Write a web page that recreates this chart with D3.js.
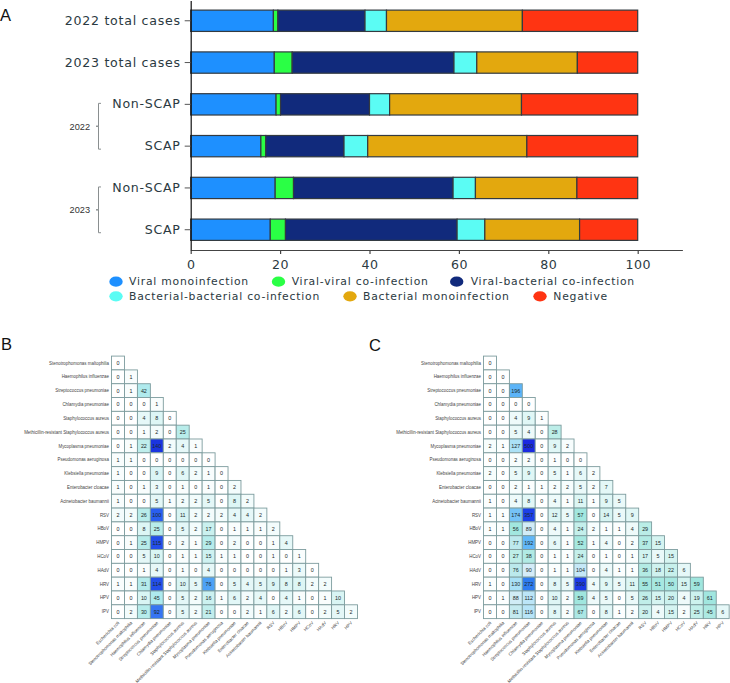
<!DOCTYPE html>
<html><head><meta charset="utf-8">
<style>html,body{margin:0;background:#fff}svg{display:block}</style>
<script src="https://d3js.org/d3.v7.min.js"></script></head>
<body><svg id="c" width="730" height="683"></svg>
<script>
// Stacked bars: composition of infection types (%)
const barGroups = ["2022 total cases","2023 total cases","Non-SCAP","SCAP","Non-SCAP ","SCAP "];
const infectionTypes = ["Viral monoinfection","Viral-viral co-infection","Viral-bacterial co-infection","Bacterial-bacterial co-infection","Bacterial monoinfection","Negative"];
const typeColors = ["#1e90ff","#2aff45","#112a7c","#5bfcf4","#e3a80e","#ff3412"];
const total2022 = [18.5,1.0,19.5,4.8,30.4,25.8];
const total2023 = [18.7,4.0,36.2,5.1,22.5,13.5];
const nonScap2022 = [19.1,1.0,19.9,4.5,29.5,26.0];
const scap2022 = [15.7,1.1,17.5,5.3,35.6,24.8];
const nonScap2023 = [18.9,4.1,35.7,5.0,22.7,13.6];
const scap2023 = [17.8,3.4,38.4,6.2,21.2,13.0];
const barRows = [total2022,total2023,nonScap2022,scap2022,nonScap2023,scap2023];

// Co-detection counts between pathogens (lower triangle)
const colPathogens = ["Escherichia coli","Stenotrophomonas maltophilia","Haemophilus influenzae","Streptococcus pneumoniae","Chlamydia pneumoniae","Staphylococcus aureus","Methicillin-resistant Staphylococcus aureus","Mycoplasma pneumoniae","Pseudomonas aeruginosa","Klebsiella pneumoniae","Enterobacter cloacae","Acinetobacter baumannii","RSV","HBoV","HMPV","HCoV","HAdV","HRV","HPV"];
const rowPathogens = ["Stenotrophomonas maltophilia","Haemophilus influenzae","Streptococcus pneumoniae","Chlamydia pneumoniae","Staphylococcus aureus","Methicillin-resistant Staphylococcus aureus","Mycoplasma pneumoniae","Pseudomonas aeruginosa","Klebsiella pneumoniae","Enterobacter cloacae","Acinetobacter baumannii","RSV","HBoV","HMPV","HCoV","HAdV","HRV","HPV","IPV"];
const counts2022 = [
[0],[0,1],[0,1,42],[0,0,0,1],[0,0,4,8,0],[0,0,1,2,0,25],[0,1,22,140,2,4,1],[1,1,0,0,0,0,0,0],
[1,0,0,9,0,6,2,1,0],[1,0,1,3,0,1,0,1,0,2],[1,0,0,5,1,2,2,5,0,8,2],[2,2,26,100,0,11,2,2,2,4,4,2],
[0,0,8,25,0,5,2,17,0,1,1,1,2],[0,1,25,115,0,2,1,29,0,2,0,0,1,4],[0,0,5,10,0,1,1,15,1,1,0,0,1,0,1],
[0,0,1,4,0,1,0,4,0,0,0,0,0,1,3,0],[1,1,31,114,0,10,5,76,0,5,4,5,9,8,8,2,2],
[0,0,10,45,0,5,2,16,1,6,2,4,0,4,1,0,1,10],[0,2,30,92,0,5,2,21,0,0,2,1,6,2,6,0,2,5,2]];
const counts2023 = [
[0],[0,0],[0,0,196],[0,0,0,0],[0,0,4,9,1],[0,0,5,4,0,28],[2,1,127,500,0,9,2],[0,0,2,2,0,1,0,0],
[2,0,5,9,0,5,1,6,2],[0,0,2,1,1,2,2,5,2,7],[1,0,4,8,0,4,1,11,1,9,5],[1,1,174,357,0,12,5,57,0,14,5,9],
[1,1,56,89,0,4,1,24,2,1,1,4,29],[0,0,77,192,0,6,1,52,1,4,0,2,37,15],[0,0,27,38,0,1,1,24,0,1,0,1,17,5,15],
[0,0,76,90,0,1,1,104,0,4,1,1,36,18,22,6],[1,0,130,272,0,8,5,390,4,9,5,11,55,51,50,15,59],
[0,1,88,112,0,10,2,59,4,5,0,5,26,15,20,4,19,61],[0,0,81,116,0,8,2,67,0,8,1,2,20,4,15,2,25,45,6]];

const svg = d3.select("#c");
const wide = "'DejaVu Sans',sans-serif", plain = "'Liberation Sans',Arial,sans-serif";
const ink = "#2b3a42";

// Panel letters
[["A",0,21],["B",1,350],["C",369,351]].forEach(([t,x,y]) =>
  svg.append("text").attr("x",x).attr("y",y).attr("font-family",plain).attr("font-size",16.5).attr("fill","#111").text(t));

// Panel A
const x = d3.scaleLinear().domain([0,100]).range([190.7,637.7]);
const y = d3.scaleBand().domain(barGroups).range([0.5,250]).paddingInner(0.49).paddingOuter(0.23);
const bars = svg.append("g");
barRows.forEach((row,r) => {
  let acc = 0;
  row.forEach((v,k) => {
    bars.append("rect").attr("x",x(acc)).attr("width",x(acc+v)-x(acc))
      .attr("y",y(barGroups[r])).attr("height",y.bandwidth())
      .attr("fill",typeColors[k]).attr("stroke","#333a40").attr("stroke-width",1.2);
    acc += v;
  });
});
const xAxis = svg.append("g").attr("transform","translate(0,250)")
  .call(d3.axisBottom(d3.scaleLinear().domain([0,110]).range([190.7,682.4])).tickValues([0,20,40,60,80,100]).tickSize(4).tickPadding(6).tickSizeOuter(0));
xAxis.selectAll("text").attr("font-family",wide).attr("font-size",12.6).attr("letter-spacing",0.5).attr("fill",ink);
xAxis.selectAll("line,path").attr("stroke","#444").attr("stroke-width",1.2);
const yAxis = svg.append("g").attr("transform","translate(190.7,0)")
  .call(d3.axisLeft(y).tickSize(6).tickPadding(4).tickSizeOuter(0));
yAxis.selectAll("text").attr("font-family",wide).attr("font-size",12.6).attr("letter-spacing",0.72).attr("fill",ink);
yAxis.selectAll("line").attr("stroke","#555");
yAxis.select("path").attr("stroke","#111").attr("stroke-width",1.2);

// Year brackets beside the subgroup labels
[["2022",2,3],["2023",4,5]].forEach(([yr,a,b]) => {
  const y0 = y(barGroups[a])+y.bandwidth()/2-1, y1 = y(barGroups[b])+y.bandwidth()/2+3;
  const mid = (y0+y1)/2;
  svg.append("path").attr("fill","none").attr("stroke","#8a8f90").attr("stroke-width",1)
    .attr("d",`M101,${y0}H98.5V${mid}H96H98.5V${y1}H101`);
  svg.append("text").attr("x",90).attr("y",mid+3.3).attr("text-anchor","end")
    .attr("font-family",plain).attr("font-size",9.2).attr("fill","#333").text(yr);
});

// Legend
const legendSpots = [[116,281.7,129],[278.5,281.7,291.7],[456.7,281.7,470.7],[116,296.3,129],[350,296.3,363],[540,296.3,553.3]];
infectionTypes.forEach((name,i) => {
  const [cx,cy,tx] = legendSpots[i];
  svg.append("ellipse").attr("cx",cx).attr("cy",cy).attr("rx",6.7).attr("ry",5.1).attr("fill",typeColors[i]);
  svg.append("text").attr("x",tx).attr("y",cy+3.7).attr("font-family",wide).attr("font-size",10.8)
    .attr("fill",ink).attr("letter-spacing",0.78).text(name);
});

// Panels B and C
function heatmap(counts, firstX, lastX, stops) {
  const cols = d3.scalePoint().domain(colPathogens).range([firstX,lastX]);
  const rows = d3.scalePoint().domain(rowPathogens).range([363,611.7]);
  const color = d3.scaleLinear().domain(stops.map(s=>s[0])).range(stops.map(s=>s[1])).clamp(true);
  const w = cols.step(), h = rows.step();
  const g = svg.append("g");
  counts.forEach((row,r) => row.forEach((v,c) => {
    const cx = cols(colPathogens[c]), cy = rows(rowPathogens[r]);
    g.append("rect").attr("x",cx-w/2).attr("y",cy-h/2).attr("width",w).attr("height",h)
      .attr("fill",color(v)).attr("stroke","#7d9c9e").attr("stroke-width",0.9);
    g.append("text").attr("x",cx).attr("y",cy+1.9).attr("text-anchor","middle")
      .attr("font-family",plain).attr("font-size",5.4).attr("fill","#1c2a2a").text(v);
  }));
  rowPathogens.forEach(name => g.append("text").attr("x",firstX-w/2-2.5).attr("y",rows(name)+1.6)
    .attr("text-anchor","end").attr("font-family",plain).attr("font-size",4.45).attr("fill","#444").text(name));
  colPathogens.forEach(name => g.append("text")
    .attr("transform",`translate(${cols(name)+0.5},${611.7+h/2+3.5}) rotate(-45)`)
    .attr("text-anchor","end").attr("dy","0.35em").attr("font-family",plain).attr("font-size",4.45).attr("fill","#444").text(name));
}
heatmap(counts2022,118,351,[[0,"#ffffff"],[4,"#e6f8f8"],[25,"#b8ecea"],[45,"#aeeaee"],[60,"#7cc4f4"],[76,"#4ea2f6"],[100,"#2a5ef0"],[140,"#1a34e0"]]);
heatmap(counts2023,490,722.7,[[0,"#ffffff"],[6,"#e6f8f8"],[30,"#b8ece6"],[60,"#9fe6de"],[90,"#d4ecf8"],[130,"#a8e0f6"],[196,"#5cb4f8"],[272,"#2e7cf0"],[357,"#1c40e8"],[500,"#1a2ae0"]]);
</script></body></html>
